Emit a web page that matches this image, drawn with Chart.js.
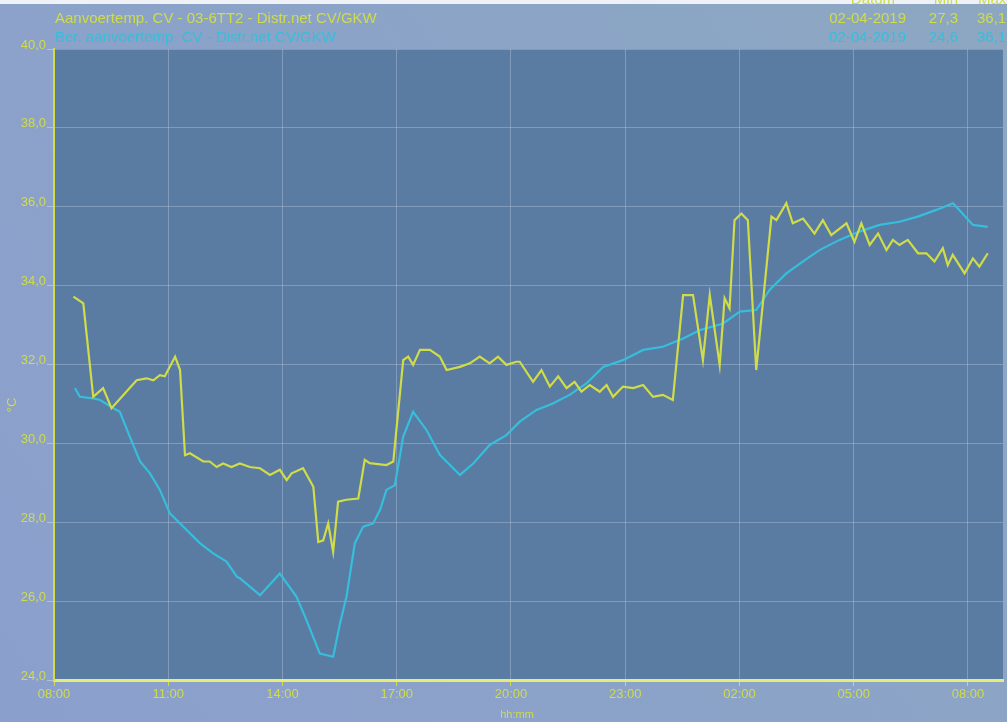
<!DOCTYPE html>
<html>
<head>
<meta charset="utf-8">
<script src="https://cdn.jsdelivr.net/npm/chart.js@4.4.1/dist/chart.umd.min.js"></script>
<style>
  html, body { margin: 0; padding: 0; background: #8da5c6; }
  #wrap { position: relative; width: 1007px; height: 722px; }
</style>
</head>
<body>
<div id="wrap"><canvas id="c" width="1007" height="722"></canvas></div>
<script>
// Supply temperature, measured (hours after 08:00, °C)
const measuredHours = [0.51,0.77,1.03,1.29,1.51,2.17,2.43,2.61,2.78,2.91,3.18,3.31,3.44,3.57,3.92,4.09,4.27,4.44,4.66,4.88,5.14,5.41,5.67,5.93,6.11,6.24,6.54,6.81,6.94,7.07,7.20,7.33,7.46,7.68,7.99,8.16,8.29,8.73,8.91,9.17,9.30,9.43,9.61,9.87,10.13,10.31,10.66,10.92,11.18,11.44,11.66,11.88,12.14,12.23,12.58,12.80,13.02,13.24,13.46,13.67,13.85,14.07,14.33,14.51,14.68,14.94,15.21,15.47,15.73,15.99,16.25,16.52,16.78,17.04,17.22,17.48,17.61,17.74,17.87,18.05,18.22,18.44,18.84,18.97,19.23,19.40,19.67,19.97,20.19,20.41,20.81,21.02,21.20,21.42,21.64,21.86,22.03,22.20,22.42,22.69,22.91,23.12,23.34,23.47,23.60,23.91,24.13,24.30,24.52];
const measuredTemp = [33.72,33.55,31.18,31.40,30.89,31.60,31.65,31.60,31.73,31.70,32.20,31.86,29.70,29.75,29.54,29.54,29.40,29.49,29.40,29.49,29.40,29.37,29.20,29.33,29.07,29.24,29.37,28.90,27.50,27.54,27.97,27.25,28.52,28.57,28.60,29.58,29.50,29.45,29.54,32.11,32.20,31.99,32.37,32.37,32.20,31.86,31.94,32.03,32.20,32.03,32.20,31.99,32.07,32.07,31.56,31.86,31.44,31.70,31.40,31.56,31.31,31.48,31.31,31.48,31.18,31.44,31.40,31.48,31.18,31.23,31.10,33.76,33.76,32.11,33.76,31.99,33.68,33.42,35.66,35.83,35.66,31.86,35.75,35.66,36.09,35.58,35.70,35.32,35.66,35.28,35.58,35.11,35.58,35.03,35.32,34.90,35.16,35.03,35.16,34.82,34.82,34.61,34.95,34.52,34.78,34.31,34.69,34.48,34.82];

// Supply temperature, calculated setpoint (hours after 08:00, °C)
const setpointHours = [0.55,0.68,1.03,1.21,1.56,1.73,1.99,2.26,2.52,2.78,3.04,3.39,3.83,4.18,4.53,4.80,4.88,5.41,5.93,6.37,6.63,6.98,7.33,7.51,7.68,7.90,8.12,8.38,8.56,8.73,8.95,9.17,9.43,9.78,10.13,10.66,11.01,11.44,11.88,12.23,12.67,13.10,13.54,13.98,14.42,14.94,15.47,15.99,16.52,16.95,17.57,18.01,18.44,18.79,19.23,19.66,20.10,20.63,21.15,21.68,22.20,22.68,23.17,23.61,24.13,24.52];
const setpointTemp = [31.40,31.18,31.14,31.10,30.89,30.80,30.17,29.54,29.24,28.82,28.23,27.89,27.47,27.21,27.00,26.62,26.58,26.15,26.70,26.11,25.52,24.67,24.59,25.43,26.11,27.47,27.89,27.97,28.31,28.82,28.94,30.17,30.80,30.34,29.71,29.20,29.49,29.96,30.21,30.55,30.85,31.01,31.23,31.52,31.94,32.11,32.37,32.45,32.66,32.87,33.04,33.34,33.38,33.89,34.31,34.61,34.90,35.16,35.37,35.54,35.62,35.75,35.92,36.09,35.54,35.49];

// Axis settings
const startHour = 8;
const yTicks = [24, 26, 28, 30, 32, 34, 36, 38, 40];
const xTickHours = [0, 3, 6, 9, 12, 15, 18, 21, 24];

// Legend rows: name, date, min, max
const legendRows = [
  { name: 'Aanvoertemp. CV - 03-6TT2 - Distr.net CV/GKW', date: '02-04-2019', min: '27,3', max: '36,1' },
  { name: 'Ber. aanvoertemp. CV - Distr.net CV/GKW', date: '02-04-2019', min: '24,6', max: '36,1' }
];
const legendHeader = ['Datum', 'Min', 'Max'];

const YELLOW = '#d0dc48';
const CYAN = '#36bedb';
const FONT = '"Liberation Sans", Arial, sans-serif';

const toPoints = (xs, ys) => xs.map((x, i) => ({ x: x, y: ys[i] }));

const fmtHour = v => String((startHour + v) % 24).padStart(2, '0') + ':00';

// Plot background, header legend and axis titles
const decor = {
  id: 'decor',
  beforeDraw(chart) {
    const { ctx, chartArea: a } = chart;
    ctx.save();
    const g = ctx.createLinearGradient(0, chart.height, chart.width, 0);
    g.addColorStop(0, '#8b9fcd');
    g.addColorStop(1, '#8ca7c2');
    ctx.fillStyle = g;
    ctx.fillRect(0, 0, chart.width, chart.height);
    ctx.fillStyle = '#eef2f6';
    ctx.fillRect(0, 0, chart.width, 4);
    ctx.fillStyle = '#5a7ba2';
    ctx.fillRect(a.left, a.top, a.right - a.left, a.bottom - a.top);
    ctx.restore();
  },
  afterDraw(chart) {
    const { ctx } = chart;
    ctx.save();
    ctx.font = '15px ' + FONT;
    ctx.textBaseline = 'middle';
    // partially visible header row
    ctx.fillStyle = YELLOW;
    ctx.textAlign = 'right';
    ctx.fillText(legendHeader[0], 895, 0);
    ctx.fillText(legendHeader[1], 958, 0);
    ctx.textAlign = 'left';
    ctx.fillText(legendHeader[2], 978, 0);
    const colors = [YELLOW, CYAN];
    const rowsY = [19, 38];
    legendRows.forEach((r, i) => {
      ctx.fillStyle = colors[i];
      ctx.textAlign = 'left';
      ctx.fillText(r.name, 55, rowsY[i]);
      ctx.textAlign = 'right';
      ctx.fillText(r.date, 906, rowsY[i]);
      ctx.fillText(r.min, 958, rowsY[i]);
      ctx.textAlign = 'left';
      ctx.fillText(r.max, 977, rowsY[i]);
    });
    // axis titles
    ctx.fillStyle = YELLOW;
    ctx.font = '11px ' + FONT;
    ctx.textAlign = 'center';
    ctx.fillText('hh:mm', 517, 715);
    ctx.translate(12, 405);
    ctx.rotate(-Math.PI / 2);
    ctx.font = '13px ' + FONT;
    ctx.fillText('°C', 0, 0);
    ctx.restore();
  }
};

new Chart(document.getElementById('c'), {
  type: 'line',
  data: {
    datasets: [
      {
        label: legendRows[0].name,
        data: toPoints(measuredHours, measuredTemp),
        borderColor: YELLOW,
        borderWidth: 2.2,
        pointRadius: 0,
        tension: 0
      },
      {
        label: legendRows[1].name,
        data: toPoints(setpointHours, setpointTemp),
        borderColor: CYAN,
        borderWidth: 2.2,
        pointRadius: 0,
        tension: 0
      }
    ]
  },
  options: {
    responsive: false,
    animation: false,
    events: [],
    layout: { padding: { top: 49, right: 4, left: 0, bottom: 0 } },
    plugins: { legend: { display: false }, tooltip: { enabled: false } },
    scales: {
      x: {
        type: 'linear',
        min: 0,
        max: 24.92,
        afterBuildTicks(scale) { scale.ticks = xTickHours.map(v => ({ value: v })); },
        afterFit(scale) { scale.height = 42; },
        ticks: {
          callback: v => fmtHour(v),
          color: YELLOW,
          font: { size: 13, family: FONT },
          maxRotation: 0,
          autoSkip: false,
          padding: 1
        },
        grid: { color: 'rgba(200,215,235,0.35)', tickColor: YELLOW, tickLength: 6, lineWidth: 1 },
        border: { color: '#e4ec7a', width: 3 }
      },
      y: {
        min: 24,
        max: 40,
        afterBuildTicks(scale) { scale.ticks = yTicks.map(v => ({ value: v })); },
        afterFit(scale) { scale.width = 54; },
        ticks: {
          callback: v => v.toFixed(1).replace('.', ','),
          color: YELLOW,
          font: { size: 13, family: FONT },
          padding: 1,
          labelOffset: -4
        },
        grid: { color: 'rgba(200,215,235,0.35)', tickColor: 'rgba(200,215,235,0.6)', tickLength: 7, lineWidth: 1 },
        border: { color: YELLOW, width: 2 }
      }
    }
  },
  plugins: [decor]
});
</script>
</body>
</html>
